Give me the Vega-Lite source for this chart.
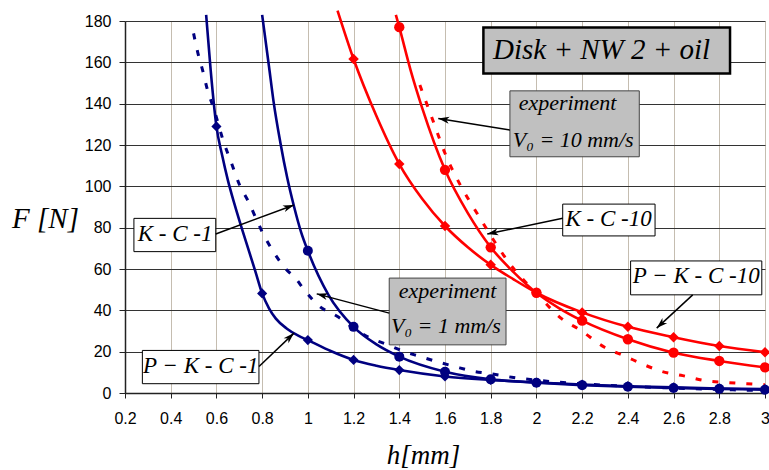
{
  "$schema": "https://vega.github.io/schema/vega-lite/v6.json",
  "width": 640,
  "height": 372,
  "autosize": {"type": "none"},
  "padding": {"left": 125, "top": 21, "right": 4, "bottom": 77},
  "background": "white",
  "datasets": {
    "curves": [
      {"series": "K-C-1", "type": "model", "h": 0.8, "F": 183, "m": 0},
      {"series": "K-C-1", "type": "model", "h": 0.83, "F": 158, "m": 0},
      {"series": "K-C-1", "type": "model", "h": 0.85, "F": 141, "m": 0},
      {"series": "K-C-1", "type": "model", "h": 0.88, "F": 121, "m": 0},
      {"series": "K-C-1", "type": "model", "h": 0.91, "F": 104, "m": 0},
      {"series": "K-C-1", "type": "model", "h": 0.94, "F": 90, "m": 0},
      {"series": "K-C-1", "type": "model", "h": 0.97, "F": 78, "m": 0},
      {"series": "K-C-1", "type": "model", "h": 1.0, "F": 68.8, "m": 1},
      {"series": "K-C-1", "type": "model", "h": 1.09, "F": 47.5, "m": 0},
      {"series": "K-C-1", "type": "model", "h": 1.2, "F": 32, "m": 1},
      {"series": "K-C-1", "type": "model", "h": 1.3, "F": 23.5, "m": 0},
      {"series": "K-C-1", "type": "model", "h": 1.4, "F": 17.6, "m": 1},
      {"series": "K-C-1", "type": "model", "h": 1.6, "F": 10.3, "m": 1},
      {"series": "K-C-1", "type": "model", "h": 1.8, "F": 6.6, "m": 1},
      {"series": "K-C-1", "type": "model", "h": 2.0, "F": 5.0, "m": 1},
      {"series": "K-C-1", "type": "model", "h": 2.2, "F": 3.8, "m": 1},
      {"series": "K-C-1", "type": "model", "h": 2.4, "F": 3.0, "m": 1},
      {"series": "K-C-1", "type": "model", "h": 2.6, "F": 2.4, "m": 1},
      {"series": "K-C-1", "type": "model", "h": 2.8, "F": 2.0, "m": 1},
      {"series": "K-C-1", "type": "model", "h": 3.0, "F": 1.6, "m": 1},

      {"series": "P-K-C-1", "type": "model", "h": 0.555, "F": 183, "m": 0},
      {"series": "P-K-C-1", "type": "model", "h": 0.575, "F": 156, "m": 0},
      {"series": "P-K-C-1", "type": "model", "h": 0.6, "F": 129, "m": 1},
      {"series": "P-K-C-1", "type": "model", "h": 0.625, "F": 115, "m": 0},
      {"series": "P-K-C-1", "type": "model", "h": 0.65, "F": 103, "m": 0},
      {"series": "P-K-C-1", "type": "model", "h": 0.68, "F": 91, "m": 0},
      {"series": "P-K-C-1", "type": "model", "h": 0.71, "F": 80, "m": 0},
      {"series": "P-K-C-1", "type": "model", "h": 0.74, "F": 69.5, "m": 0},
      {"series": "P-K-C-1", "type": "model", "h": 0.77, "F": 59, "m": 0},
      {"series": "P-K-C-1", "type": "model", "h": 0.8, "F": 48.2, "m": 1},
      {"series": "P-K-C-1", "type": "model", "h": 0.83, "F": 41, "m": 0},
      {"series": "P-K-C-1", "type": "model", "h": 0.86, "F": 36, "m": 0},
      {"series": "P-K-C-1", "type": "model", "h": 0.91, "F": 31, "m": 0},
      {"series": "P-K-C-1", "type": "model", "h": 0.96, "F": 27.6, "m": 0},
      {"series": "P-K-C-1", "type": "model", "h": 1.0, "F": 25.6, "m": 1},
      {"series": "P-K-C-1", "type": "model", "h": 1.1, "F": 20.3, "m": 0},
      {"series": "P-K-C-1", "type": "model", "h": 1.2, "F": 16, "m": 1},
      {"series": "P-K-C-1", "type": "model", "h": 1.3, "F": 13.2, "m": 0},
      {"series": "P-K-C-1", "type": "model", "h": 1.4, "F": 11.1, "m": 1},
      {"series": "P-K-C-1", "type": "model", "h": 1.6, "F": 8.0, "m": 1},
      {"series": "P-K-C-1", "type": "model", "h": 1.8, "F": 6.3, "m": 1},
      {"series": "P-K-C-1", "type": "model", "h": 2.0, "F": 5.1, "m": 1},
      {"series": "P-K-C-1", "type": "model", "h": 2.2, "F": 4.1, "m": 1},
      {"series": "P-K-C-1", "type": "model", "h": 2.4, "F": 3.3, "m": 1},
      {"series": "P-K-C-1", "type": "model", "h": 2.6, "F": 2.7, "m": 1},
      {"series": "P-K-C-1", "type": "model", "h": 2.8, "F": 2.2, "m": 1},
      {"series": "P-K-C-1", "type": "model", "h": 3.0, "F": 1.9, "m": 1},

      {"series": "K-C-10", "type": "model", "h": 1.385, "F": 183, "m": 0},
      {"series": "K-C-10", "type": "model", "h": 1.4, "F": 177, "m": 1},
      {"series": "K-C-10", "type": "model", "h": 1.45, "F": 156, "m": 0},
      {"series": "K-C-10", "type": "model", "h": 1.5, "F": 138, "m": 0},
      {"series": "K-C-10", "type": "model", "h": 1.6, "F": 108, "m": 1},
      {"series": "K-C-10", "type": "model", "h": 1.7, "F": 87, "m": 0},
      {"series": "K-C-10", "type": "model", "h": 1.8, "F": 70.5, "m": 1},
      {"series": "K-C-10", "type": "model", "h": 1.9, "F": 58.5, "m": 0},
      {"series": "K-C-10", "type": "model", "h": 2.0, "F": 48.5, "m": 1},
      {"series": "K-C-10", "type": "model", "h": 2.1, "F": 41, "m": 0},
      {"series": "K-C-10", "type": "model", "h": 2.2, "F": 35, "m": 1},
      {"series": "K-C-10", "type": "model", "h": 2.4, "F": 26, "m": 1},
      {"series": "K-C-10", "type": "model", "h": 2.6, "F": 19.5, "m": 1},
      {"series": "K-C-10", "type": "model", "h": 2.8, "F": 15.5, "m": 1},
      {"series": "K-C-10", "type": "model", "h": 3.0, "F": 12.4, "m": 1},

      {"series": "P-K-C-10", "type": "model", "h": 1.13, "F": 185, "m": 0},
      {"series": "P-K-C-10", "type": "model", "h": 1.2, "F": 161.6, "m": 1},
      {"series": "P-K-C-10", "type": "model", "h": 1.3, "F": 134, "m": 0},
      {"series": "P-K-C-10", "type": "model", "h": 1.4, "F": 110.8, "m": 1},
      {"series": "P-K-C-10", "type": "model", "h": 1.5, "F": 94, "m": 0},
      {"series": "P-K-C-10", "type": "model", "h": 1.6, "F": 80.8, "m": 1},
      {"series": "P-K-C-10", "type": "model", "h": 1.7, "F": 70.5, "m": 0},
      {"series": "P-K-C-10", "type": "model", "h": 1.8, "F": 62, "m": 1},
      {"series": "P-K-C-10", "type": "model", "h": 1.9, "F": 55, "m": 0},
      {"series": "P-K-C-10", "type": "model", "h": 2.0, "F": 48.5, "m": 1},
      {"series": "P-K-C-10", "type": "model", "h": 2.2, "F": 39, "m": 1},
      {"series": "P-K-C-10", "type": "model", "h": 2.4, "F": 32, "m": 1},
      {"series": "P-K-C-10", "type": "model", "h": 2.6, "F": 27, "m": 1},
      {"series": "P-K-C-10", "type": "model", "h": 2.8, "F": 22.7, "m": 1},
      {"series": "P-K-C-10", "type": "model", "h": 3.0, "F": 19.7, "m": 1},

      {"series": "exp-1", "type": "exp", "h": 0.5, "F": 174, "m": 0},
      {"series": "exp-1", "type": "exp", "h": 0.52, "F": 164, "m": 0},
      {"series": "exp-1", "type": "exp", "h": 0.54, "F": 156, "m": 0},
      {"series": "exp-1", "type": "exp", "h": 0.56, "F": 147, "m": 0},
      {"series": "exp-1", "type": "exp", "h": 0.59, "F": 137, "m": 0},
      {"series": "exp-1", "type": "exp", "h": 0.63, "F": 122, "m": 0},
      {"series": "exp-1", "type": "exp", "h": 0.67, "F": 110, "m": 0},
      {"series": "exp-1", "type": "exp", "h": 0.7, "F": 101, "m": 0},
      {"series": "exp-1", "type": "exp", "h": 0.74, "F": 92.6, "m": 0},
      {"series": "exp-1", "type": "exp", "h": 0.77, "F": 85.3, "m": 0},
      {"series": "exp-1", "type": "exp", "h": 0.8, "F": 78, "m": 0},
      {"series": "exp-1", "type": "exp", "h": 0.84, "F": 70, "m": 0},
      {"series": "exp-1", "type": "exp", "h": 0.9, "F": 60.5, "m": 0},
      {"series": "exp-1", "type": "exp", "h": 0.95, "F": 55, "m": 0},
      {"series": "exp-1", "type": "exp", "h": 0.98, "F": 50.5, "m": 0},
      {"series": "exp-1", "type": "exp", "h": 1.05, "F": 42, "m": 0},
      {"series": "exp-1", "type": "exp", "h": 1.13, "F": 37, "m": 0},
      {"series": "exp-1", "type": "exp", "h": 1.2, "F": 31.4, "m": 0},
      {"series": "exp-1", "type": "exp", "h": 1.26, "F": 27.3, "m": 0},
      {"series": "exp-1", "type": "exp", "h": 1.35, "F": 23.3, "m": 0},
      {"series": "exp-1", "type": "exp", "h": 1.42, "F": 20.1, "m": 0},
      {"series": "exp-1", "type": "exp", "h": 1.49, "F": 17.7, "m": 0},
      {"series": "exp-1", "type": "exp", "h": 1.56, "F": 15.3, "m": 0},
      {"series": "exp-1", "type": "exp", "h": 1.64, "F": 12.9, "m": 0},
      {"series": "exp-1", "type": "exp", "h": 1.72, "F": 10.6, "m": 0},
      {"series": "exp-1", "type": "exp", "h": 1.8, "F": 9.3, "m": 0},
      {"series": "exp-1", "type": "exp", "h": 1.9, "F": 7.5, "m": 0},
      {"series": "exp-1", "type": "exp", "h": 2.0, "F": 6.2, "m": 0},
      {"series": "exp-1", "type": "exp", "h": 2.1, "F": 5.2, "m": 0},
      {"series": "exp-1", "type": "exp", "h": 2.2, "F": 4.4, "m": 0},
      {"series": "exp-1", "type": "exp", "h": 2.4, "F": 3.3, "m": 0},
      {"series": "exp-1", "type": "exp", "h": 2.6, "F": 2.4, "m": 0},
      {"series": "exp-1", "type": "exp", "h": 2.8, "F": 1.7, "m": 0},
      {"series": "exp-1", "type": "exp", "h": 3.0, "F": 1.2, "m": 0},

      {"series": "exp-10", "type": "exp", "h": 1.49, "F": 149, "m": 0},
      {"series": "exp-10", "type": "exp", "h": 1.55, "F": 131, "m": 0},
      {"series": "exp-10", "type": "exp", "h": 1.6, "F": 116, "m": 0},
      {"series": "exp-10", "type": "exp", "h": 1.67, "F": 100, "m": 0},
      {"series": "exp-10", "type": "exp", "h": 1.74, "F": 87, "m": 0},
      {"series": "exp-10", "type": "exp", "h": 1.83, "F": 71, "m": 0},
      {"series": "exp-10", "type": "exp", "h": 1.88, "F": 63, "m": 0},
      {"series": "exp-10", "type": "exp", "h": 1.95, "F": 54, "m": 0},
      {"series": "exp-10", "type": "exp", "h": 2.0, "F": 48.5, "m": 0},
      {"series": "exp-10", "type": "exp", "h": 2.07, "F": 40, "m": 0},
      {"series": "exp-10", "type": "exp", "h": 2.11, "F": 36, "m": 0},
      {"series": "exp-10", "type": "exp", "h": 2.19, "F": 30.6, "m": 0},
      {"series": "exp-10", "type": "exp", "h": 2.3, "F": 22, "m": 0},
      {"series": "exp-10", "type": "exp", "h": 2.39, "F": 17.7, "m": 0},
      {"series": "exp-10", "type": "exp", "h": 2.47, "F": 13.7, "m": 0},
      {"series": "exp-10", "type": "exp", "h": 2.55, "F": 10.4, "m": 0},
      {"series": "exp-10", "type": "exp", "h": 2.64, "F": 8.4, "m": 0},
      {"series": "exp-10", "type": "exp", "h": 2.73, "F": 6.1, "m": 0},
      {"series": "exp-10", "type": "exp", "h": 2.83, "F": 5.1, "m": 0},
      {"series": "exp-10", "type": "exp", "h": 2.92, "F": 4.5, "m": 0},
      {"series": "exp-10", "type": "exp", "h": 3.0, "F": 4.0, "m": 0}
    ],
    "boxes": [
      {"name": "title", "fill": "gray", "h1": 1.768, "h2": 2.847, "F1": 154.6, "F2": 176.8},
      {"name": "exp10", "fill": "gray", "h1": 1.884, "h2": 2.45, "F1": 114.3, "F2": 146.2},
      {"name": "exp1", "fill": "gray", "h1": 1.356, "h2": 1.867, "F1": 23.3, "F2": 55.6},
      {"name": "KC10", "fill": "white", "h1": 2.115, "h2": 2.519, "F1": 76, "F2": 91.4},
      {"name": "PKC10", "fill": "white", "h1": 2.412, "h2": 2.986, "F1": 47.5, "F2": 63.9},
      {"name": "KC1", "fill": "white", "h1": 0.239, "h2": 0.597, "F1": 68.4, "F2": 84.5},
      {"name": "PKC1", "fill": "white", "h1": 0.276, "h2": 0.786, "F1": 4.5, "F2": 20.6}
    ],
    "texts": [
      {"t": "Disk + NW 2 + oil", "k": "title", "h": 2.285, "F": 161.8},
      {"t": "experiment", "k": "exp", "h": 2.136, "F": 136.9},
      {"t": "V₀ = 10 mm/s", "k": "exp", "h": 2.161, "F": 119.1},
      {"t": "experiment", "k": "exp", "h": 1.611, "F": 45.9},
      {"t": "V₀ = 1 mm/s", "k": "exp", "h": 1.604, "F": 29},
      {"t": "K - C -10", "k": "model", "h": 2.316, "F": 80.8},
      {"t": "P − K - C -10", "k": "model", "h": 2.6995, "F": 53.1},
      {"t": "K - C -1", "k": "model", "h": 0.4188, "F": 73.7},
      {"t": "P − K - C -1", "k": "model", "h": 0.5317, "F": 9.66}
    ],
    "arrows": [
      {"h": 0.597, "F": 76.96, "h2": 0.9394, "F2": 90.97, "angle": 69.7},
      {"h": 0.7863, "F": 12.85, "h2": 0.9394, "F2": 28.99, "angle": 46.3},
      {"h": 1.3563, "F": 38.65, "h2": 1.0387, "F2": 47.97, "angle": 284.9},
      {"h": 1.8844, "F": 127.2, "h2": 1.5707, "F2": 132.85, "angle": 279.3},
      {"h": 2.115, "F": 84.54, "h2": 1.785, "F2": 76.96, "angle": 258.2},
      {"h": 2.6837, "F": 47.49, "h2": 2.5262, "F2": 31.4, "angle": 227.2}
    ]
  },
  "config": {
    "view": {"stroke": null},
    "axis": {
      "labelFont": "Liberation Sans",
      "labelFontSize": 16,
      "labelColor": "#000000",
      "labelFlush": false,
      "labelOverlap": false,
      "titleFont": "serif",
      "titleFontStyle": "italic",
      "titleFontWeight": "normal",
      "titleColor": "#000000",
      "domainColor": "#222222",
      "domainWidth": 1.5,
      "tickColor": "#222222",
      "tickWidth": 1,
      "gridOpacity": 1
    },
    "axisX": {"gridColor": "#c5bdb0", "gridWidth": 1, "tickSize": 5, "labelPadding": 12},
    "axisY": {"gridColor": "#333333", "gridWidth": 1, "tickSize": 6, "labelPadding": 8}
  },
  "layer": [
    {
      "data": {"name": "curves"},
      "transform": [{"filter": "datum.type === 'exp'"}],
      "mark": {"type": "line", "interpolate": "monotone", "strokeWidth": 3, "strokeDash": [6, 11], "strokeCap": "butt"},
      "encoding": {
        "x": {"field": "h", "type": "quantitative", "scale": {"domain": [0.2, 3], "nice": false, "zero": false},
          "axis": {"values": [0.2, 0.4, 0.6, 0.8, 1, 1.2, 1.4, 1.6, 1.8, 2, 2.2, 2.4, 2.6, 2.8, 3], "format": "~g",
            "title": "h[mm]", "titleFontSize": 27, "titleX": 298, "titleY": 70, "titleAlign": "center", "titleBaseline": "alphabetic"}},
        "y": {"field": "F", "type": "quantitative", "scale": {"domain": [0, 180], "nice": false},
          "axis": {"values": [0, 20, 40, 60, 80, 100, 120, 140, 160, 180],
            "title": "F [N]", "titleFontSize": 29, "titleAngle": 0, "titleX": -80, "titleY": 206, "titleAlign": "center", "titleBaseline": "alphabetic"}},
        "color": {"field": "series", "type": "nominal",
          "scale": {"domain": ["K-C-1", "P-K-C-1", "exp-1", "K-C-10", "P-K-C-10", "exp-10"],
            "range": ["#000080", "#000080", "#000080", "#ff0000", "#ff0000", "#ff0000"]}, "legend": null}
      }
    },
    {
      "data": {"name": "curves"},
      "transform": [{"filter": "datum.type === 'model'"}],
      "mark": {"type": "line", "interpolate": "monotone", "strokeWidth": 2.6},
      "encoding": {
        "x": {"field": "h", "type": "quantitative"},
        "y": {"field": "F", "type": "quantitative"},
        "color": {"field": "series", "type": "nominal", "legend": null}
      }
    },
    {
      "data": {"name": "curves"},
      "transform": [{"filter": "datum.m === 1"}],
      "mark": {"type": "point", "filled": true, "opacity": 1},
      "encoding": {
        "x": {"field": "h", "type": "quantitative"},
        "y": {"field": "F", "type": "quantitative"},
        "color": {"field": "series", "type": "nominal", "legend": null},
        "shape": {"field": "series", "type": "nominal",
          "scale": {"domain": ["K-C-1", "P-K-C-1", "K-C-10", "P-K-C-10"], "range": ["circle", "diamond", "circle", "diamond"]}, "legend": null},
        "size": {"field": "series", "type": "nominal",
          "scale": {"domain": ["K-C-1", "P-K-C-1", "K-C-10", "P-K-C-10"], "range": [100, 110, 150, 130]}, "legend": null}
      }
    },
    {
      "data": {"name": "boxes"},
      "mark": {"type": "rect"},
      "encoding": {
        "x": {"field": "h1", "type": "quantitative"},
        "x2": {"field": "h2"},
        "y": {"field": "F1", "type": "quantitative"},
        "y2": {"field": "F2"},
        "fill": {"field": "fill", "type": "nominal", "scale": {"domain": ["gray", "white"], "range": ["#c0c0c0", "#ffffff"]}, "legend": null},
        "stroke": {"condition": {"test": "datum.fill === 'gray' && datum.name !== 'title'", "value": "#444444"}, "value": "#000000"},
        "strokeWidth": {"condition": {"test": "datum.name === 'title'", "value": 2.5}, "value": 1}
      }
    },
    {
      "data": {"name": "arrows"},
      "mark": {"type": "rule", "color": "#000000", "strokeWidth": 1.5},
      "encoding": {
        "x": {"field": "h", "type": "quantitative"},
        "y": {"field": "F", "type": "quantitative"},
        "x2": {"field": "h2"},
        "y2": {"field": "F2"}
      }
    },
    {
      "data": {"name": "arrows"},
      "mark": {"type": "point", "shape": "M0,0L-0.7,2.2L0,1.6L0.7,2.2Z", "filled": true, "color": "#000000", "opacity": 1, "size": 100},
      "encoding": {
        "x": {"field": "h2", "type": "quantitative"},
        "y": {"field": "F2", "type": "quantitative"},
        "angle": {"field": "angle", "type": "quantitative", "scale": null}
      }
    },
    {
      "data": {"name": "texts"},
      "mark": {"type": "text", "font": "serif", "fontStyle": "italic", "color": "#000000", "align": "center", "baseline": "alphabetic"},
      "encoding": {
        "x": {"field": "h", "type": "quantitative"},
        "y": {"field": "F", "type": "quantitative"},
        "text": {"field": "t"},
        "size": {"condition": [{"test": "datum.k === 'title'", "value": 29}, {"test": "datum.k === 'exp'", "value": 22}], "value": 23}
      }
    }
  ]
}
